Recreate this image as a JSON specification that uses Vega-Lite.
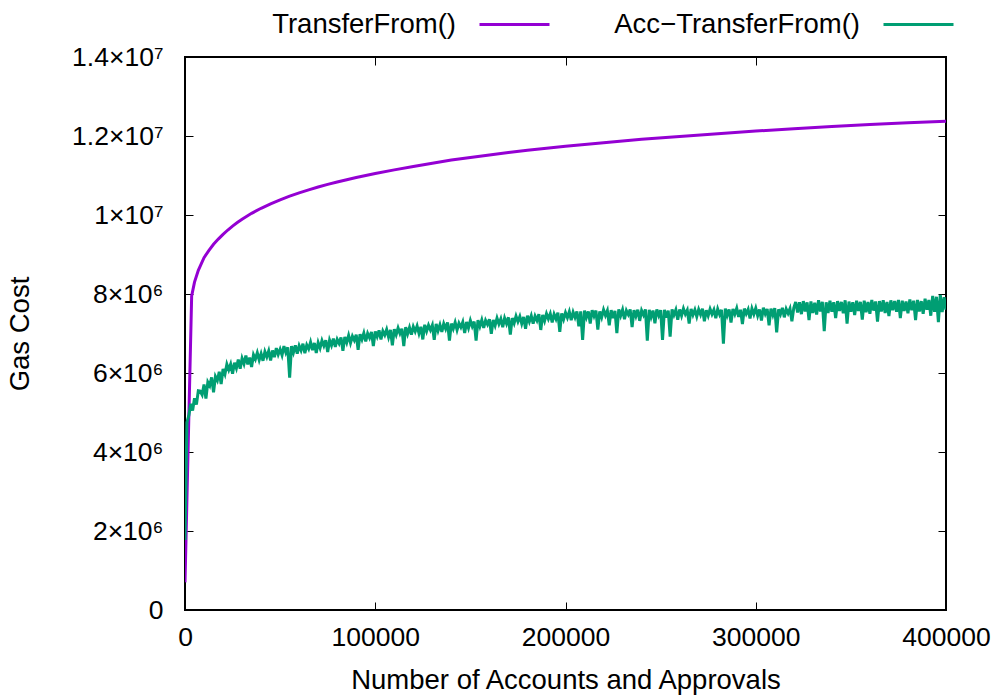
{
  "$schema": "https://vega.github.io/schema/vega-lite/v6.json",
  "width": 761,
  "height": 553,
  "autosize": {"type": "none"},
  "padding": {"left": 185, "top": 57, "right": 53, "bottom": 87},
  "background": "white",
  "config": {
    "font": "Liberation Sans",
    "view": {"stroke": "black", "strokeWidth": 2},
    "axis": {
      "grid": false, "domain": false, "labelFlush": false,
      "labelFont": "Liberation Sans", "labelFontSize": 26.5, "labelColor": "black",
      "titleFont": "Liberation Sans", "titleFontSize": 27.5, "titleFontWeight": "normal", "titleColor": "black",
      "tickColor": "black", "tickWidth": 1, "tickSize": -8
    }
  },
  "datasets": {
    "purple": [
      {"x":0,"y":700000},{"x":3500,"y":7950000},{"x":5000,"y":8300000},{"x":7000,"y":8600000},{"x":10000,"y":8920000},{"x":12500,"y":9100000},{"x":15000,"y":9260000},{"x":17500,"y":9390000},{"x":20000,"y":9510000},{"x":22500,"y":9620000},{"x":25000,"y":9720000},{"x":27500,"y":9810000},{"x":30000,"y":9894000},{"x":35000,"y":10042000},{"x":40000,"y":10170000},{"x":45000,"y":10284000},{"x":50000,"y":10385000},{"x":55000,"y":10476000},{"x":60000,"y":10560000},{"x":65000,"y":10637000},{"x":70000,"y":10708000},{"x":75000,"y":10774000},{"x":80000,"y":10836000},{"x":85000,"y":10894000},{"x":90000,"y":10949000},{"x":95000,"y":11001000},{"x":100000,"y":11050000},{"x":110000,"y":11142000},{"x":120000,"y":11230000},{"x":130000,"y":11312000},{"x":140000,"y":11390000},{"x":150000,"y":11458000},{"x":160000,"y":11520000},{"x":170000,"y":11581000},{"x":180000,"y":11640000},{"x":190000,"y":11692000},{"x":200000,"y":11740000},{"x":220000,"y":11830000},{"x":240000,"y":11915000},{"x":260000,"y":11990000},{"x":280000,"y":12060000},{"x":300000,"y":12125000},{"x":320000,"y":12185000},{"x":340000,"y":12240000},{"x":360000,"y":12290000},{"x":380000,"y":12335000},{"x":400000,"y":12375000}
    ],
    "green": [
      {"x":0,"y":1770000},{"x":1000,"y":4750000},{"x":2000,"y":4920000},{"x":3000,"y":5220000},{"x":4000,"y":5050000},{"x":5000,"y":5360000},{"x":6000,"y":5200000},{"x":7000,"y":5550000},{"x":8000,"y":5540000},{"x":9000,"y":5450000},
      {"x":10000,"y":5710000},{"x":11000,"y":5350000},{"x":12000,"y":5770000},{"x":13000,"y":5680000},{"x":14000,"y":5890000},{"x":15000,"y":5510000},{"x":16000,"y":5910000},{"x":17000,"y":5810000},{"x":18000,"y":6030000},{"x":19000,"y":5720000},
      {"x":20000,"y":6100000},{"x":21000,"y":5970000},{"x":22000,"y":6220000},{"x":23000,"y":6080000},{"x":24000,"y":6220000},{"x":25000,"y":5980000},{"x":26000,"y":6260000},{"x":27000,"y":6120000},{"x":28000,"y":6340000},{"x":29000,"y":6110000},
      {"x":30000,"y":6370000},{"x":31000,"y":6230000},{"x":32000,"y":6440000},{"x":33000,"y":6220000},{"x":34000,"y":6390000},{"x":35000,"y":6150000},{"x":36000,"y":6460000},{"x":37000,"y":6350000},{"x":38000,"y":6510000},{"x":39000,"y":6330000},
      {"x":40000,"y":6490000},{"x":41000,"y":6310000},{"x":42000,"y":6540000},{"x":43000,"y":6410000},{"x":44000,"y":6560000},{"x":45000,"y":6320000},{"x":46000,"y":6570000},{"x":47000,"y":6400000},{"x":48000,"y":6630000},{"x":49000,"y":6470000},
      {"x":50000,"y":6600000},{"x":51000,"y":6450000},{"x":52000,"y":6680000},{"x":53000,"y":6520000},{"x":54000,"y":6650000},{"x":55000,"y":5880000},{"x":56000,"y":6680000},{"x":57000,"y":6520000},{"x":58000,"y":6700000},{"x":59000,"y":6490000},
      {"x":60000,"y":6690000},{"x":61000,"y":6570000},{"x":62000,"y":6740000},{"x":63000,"y":6500000},{"x":64000,"y":6710000},{"x":65000,"y":6610000},{"x":66000,"y":6780000},{"x":67000,"y":6580000},{"x":68000,"y":6760000},{"x":69000,"y":6510000},
      {"x":70000,"y":6770000},{"x":71000,"y":6630000},{"x":72000,"y":6820000},{"x":73000,"y":6690000},{"x":74000,"y":6830000},{"x":75000,"y":6530000},{"x":76000,"y":6830000},{"x":77000,"y":6700000},{"x":78000,"y":6870000},{"x":79000,"y":6660000},
      {"x":80000,"y":6850000},{"x":81000,"y":6750000},{"x":82000,"y":6900000},{"x":83000,"y":6560000},{"x":84000,"y":6910000},{"x":85000,"y":6770000},{"x":86000,"y":6950000},{"x":87000,"y":6760000},{"x":88000,"y":6930000},{"x":89000,"y":6830000},
      {"x":90000,"y":6970000},{"x":91000,"y":6590000},{"x":92000,"y":6980000},{"x":93000,"y":6850000},{"x":94000,"y":7010000},{"x":95000,"y":6800000},{"x":96000,"y":7000000},{"x":97000,"y":6890000},{"x":98000,"y":7040000},{"x":99000,"y":6680000},
      {"x":100000,"y":7050000},{"x":101000,"y":6920000},{"x":102000,"y":7080000},{"x":103000,"y":6850000},{"x":104000,"y":7060000},{"x":105000,"y":6960000},{"x":106000,"y":7100000},{"x":107000,"y":6910000},{"x":108000,"y":7090000},{"x":109000,"y":6700000},
      {"x":110000,"y":7110000},{"x":111000,"y":6970000},{"x":112000,"y":7140000},{"x":113000,"y":7000000},{"x":114000,"y":7120000},{"x":115000,"y":6680000},{"x":116000,"y":7160000},{"x":117000,"y":6990000},{"x":118000,"y":7150000},{"x":119000,"y":6970000},
      {"x":120000,"y":7170000},{"x":121000,"y":7050000},{"x":122000,"y":7190000},{"x":123000,"y":7000000},{"x":124000,"y":7170000},{"x":125000,"y":6850000},{"x":126000,"y":7220000},{"x":127000,"y":7060000},{"x":128000,"y":7210000},{"x":129000,"y":7090000},
      {"x":130000,"y":7210000},{"x":131000,"y":6840000},{"x":132000,"y":7240000},{"x":133000,"y":7070000},{"x":134000,"y":7220000},{"x":135000,"y":7040000},{"x":136000,"y":7250000},{"x":137000,"y":7120000},{"x":138000,"y":7280000},{"x":139000,"y":6820000},
      {"x":140000,"y":7250000},{"x":141000,"y":7120000},{"x":142000,"y":7280000},{"x":143000,"y":7090000},{"x":144000,"y":7260000},{"x":145000,"y":7160000},{"x":146000,"y":7290000},{"x":147000,"y":7010000},{"x":148000,"y":7290000},{"x":149000,"y":7140000},
      {"x":150000,"y":7330000},{"x":151000,"y":7180000},{"x":152000,"y":7300000},{"x":153000,"y":6820000},{"x":154000,"y":7340000},{"x":155000,"y":7180000},{"x":156000,"y":7340000},{"x":157000,"y":7140000},{"x":158000,"y":7330000},{"x":159000,"y":7230000},
      {"x":160000,"y":7360000},{"x":161000,"y":6990000},{"x":162000,"y":7340000},{"x":163000,"y":7200000},{"x":164000,"y":7390000},{"x":165000,"y":7240000},{"x":166000,"y":7370000},{"x":167000,"y":7160000},{"x":168000,"y":7390000},{"x":169000,"y":7250000},
      {"x":170000,"y":7410000},{"x":171000,"y":6970000},{"x":172000,"y":7390000},{"x":173000,"y":7260000},{"x":174000,"y":7440000},{"x":175000,"y":7300000},{"x":176000,"y":7430000},{"x":177000,"y":7250000},{"x":178000,"y":7420000},{"x":179000,"y":7120000},
      {"x":180000,"y":7450000},{"x":181000,"y":7300000},{"x":182000,"y":7450000},{"x":183000,"y":7250000},{"x":184000,"y":7440000},{"x":185000,"y":7330000},{"x":186000,"y":7490000},{"x":187000,"y":7090000},{"x":188000,"y":7470000},{"x":189000,"y":7320000},
      {"x":190000,"y":7500000},{"x":191000,"y":7370000},{"x":192000,"y":7500000},{"x":193000,"y":7280000},{"x":194000,"y":7490000},{"x":195000,"y":7370000},{"x":196000,"y":7530000},{"x":197000,"y":7040000},{"x":198000,"y":7510000},{"x":199000,"y":7360000},
      {"x":200000,"y":7530000},{"x":201000,"y":7400000},{"x":202000,"y":7550000},{"x":203000,"y":7340000},{"x":204000,"y":7540000},{"x":205000,"y":7410000},{"x":206000,"y":7560000},{"x":207000,"y":7180000},{"x":208000,"y":7560000},{"x":209000,"y":6840000},
      {"x":210000,"y":7580000},{"x":211000,"y":7410000},{"x":212000,"y":7560000},{"x":213000,"y":7250000},{"x":214000,"y":7590000},{"x":215000,"y":7440000},{"x":216000,"y":7580000},{"x":217000,"y":7100000},{"x":218000,"y":7560000},{"x":219000,"y":7410000},
      {"x":220000,"y":7600000},{"x":221000,"y":7460000},{"x":222000,"y":7580000},{"x":223000,"y":7210000},{"x":224000,"y":7590000},{"x":225000,"y":7390000},{"x":226000,"y":7570000},{"x":227000,"y":7010000},{"x":228000,"y":7610000},{"x":229000,"y":7450000},
      {"x":230000,"y":7600000},{"x":231000,"y":7360000},{"x":232000,"y":7580000},{"x":233000,"y":7480000},{"x":234000,"y":7610000},{"x":235000,"y":7160000},{"x":236000,"y":7590000},{"x":237000,"y":7440000},{"x":238000,"y":7600000},{"x":239000,"y":7320000},
      {"x":240000,"y":7580000},{"x":241000,"y":7470000},{"x":242000,"y":7610000},{"x":243000,"y":6820000},{"x":244000,"y":7600000},{"x":245000,"y":7420000},{"x":246000,"y":7580000},{"x":247000,"y":7260000},{"x":248000,"y":7610000},{"x":249000,"y":7460000},
      {"x":250000,"y":7590000},{"x":251000,"y":6840000},{"x":252000,"y":7600000},{"x":253000,"y":7400000},{"x":254000,"y":7580000},{"x":255000,"y":6920000},{"x":256000,"y":7610000},{"x":257000,"y":7470000},{"x":258000,"y":7600000},{"x":259000,"y":7350000},
      {"x":260000,"y":7610000},{"x":261000,"y":7450000},{"x":262000,"y":7630000},{"x":263000,"y":7490000},{"x":264000,"y":7590000},{"x":265000,"y":7250000},{"x":266000,"y":7620000},{"x":267000,"y":7470000},{"x":268000,"y":7600000},{"x":269000,"y":7430000},
      {"x":270000,"y":7610000},{"x":271000,"y":7480000},{"x":272000,"y":7630000},{"x":273000,"y":7310000},{"x":274000,"y":7590000},{"x":275000,"y":7450000},{"x":276000,"y":7620000},{"x":277000,"y":7490000},{"x":278000,"y":7600000},{"x":279000,"y":7390000},
      {"x":280000,"y":7620000},{"x":281000,"y":7480000},{"x":282000,"y":7600000},{"x":283000,"y":6740000},{"x":284000,"y":7630000},{"x":285000,"y":7460000},{"x":286000,"y":7610000},{"x":287000,"y":7280000},{"x":288000,"y":7620000},{"x":289000,"y":7490000},
      {"x":290000,"y":7640000},{"x":291000,"y":7420000},{"x":292000,"y":7600000},{"x":293000,"y":7240000},{"x":294000,"y":7630000},{"x":295000,"y":7500000},{"x":296000,"y":7610000},{"x":297000,"y":7380000},{"x":298000,"y":7630000},{"x":299000,"y":7490000},
      {"x":300000,"y":7640000},{"x":301000,"y":7450000},{"x":302000,"y":7610000},{"x":303000,"y":7330000},{"x":304000,"y":7650000},{"x":305000,"y":7500000},{"x":306000,"y":7620000},{"x":307000,"y":7210000},{"x":308000,"y":7630000},{"x":309000,"y":7470000},
      {"x":310000,"y":7640000},{"x":311000,"y":7030000},{"x":312000,"y":7610000},{"x":313000,"y":7490000},{"x":314000,"y":7650000},{"x":315000,"y":7410000},{"x":316000,"y":7620000},{"x":317000,"y":7510000},{"x":318000,"y":7630000},{"x":319000,"y":7310000},
      {"x":320000,"y":7650000},{"x":321000,"y":7800000},{"x":322000,"y":7530000},{"x":323000,"y":7790000},{"x":324000,"y":7490000},{"x":325000,"y":7820000},{"x":326000,"y":7560000},{"x":327000,"y":7790000},{"x":328000,"y":7340000},{"x":329000,"y":7810000},
      {"x":330000,"y":7520000},{"x":331000,"y":7780000},{"x":332000,"y":7480000},{"x":333000,"y":7840000},{"x":334000,"y":7560000},{"x":335000,"y":7800000},{"x":336000,"y":7060000},{"x":337000,"y":7790000},{"x":338000,"y":7520000},{"x":339000,"y":7830000},
      {"x":340000,"y":7550000},{"x":341000,"y":7790000},{"x":342000,"y":7390000},{"x":343000,"y":7820000},{"x":344000,"y":7570000},{"x":345000,"y":7800000},{"x":346000,"y":7510000},{"x":347000,"y":7840000},{"x":348000,"y":7250000},{"x":349000,"y":7810000},
      {"x":350000,"y":7550000},{"x":351000,"y":7790000},{"x":352000,"y":7470000},{"x":353000,"y":7830000},{"x":354000,"y":7570000},{"x":355000,"y":7800000},{"x":356000,"y":7350000},{"x":357000,"y":7830000},{"x":358000,"y":7540000},{"x":359000,"y":7800000},
      {"x":360000,"y":7500000},{"x":361000,"y":7850000},{"x":362000,"y":7580000},{"x":363000,"y":7810000},{"x":364000,"y":7300000},{"x":365000,"y":7820000},{"x":366000,"y":7560000},{"x":367000,"y":7840000},{"x":368000,"y":7520000},{"x":369000,"y":7800000},
      {"x":370000,"y":7440000},{"x":371000,"y":7840000},{"x":372000,"y":7590000},{"x":373000,"y":7820000},{"x":374000,"y":7550000},{"x":375000,"y":7850000},{"x":376000,"y":7390000},{"x":377000,"y":7830000},{"x":378000,"y":7570000},{"x":379000,"y":7810000},
      {"x":380000,"y":7510000},{"x":381000,"y":7860000},{"x":382000,"y":7590000},{"x":383000,"y":7830000},{"x":384000,"y":7340000},{"x":385000,"y":7850000},{"x":386000,"y":7560000},{"x":387000,"y":7820000},{"x":388000,"y":7500000},{"x":389000,"y":7880000},
      {"x":390000,"y":7600000},{"x":391000,"y":7850000},{"x":392000,"y":7450000},{"x":393000,"y":7950000},{"x":394000,"y":7550000},{"x":395000,"y":7930000},{"x":396000,"y":7290000},{"x":397000,"y":7980000},{"x":398000,"y":7540000},{"x":399000,"y":7920000},
      {"x":400000,"y":7600000}
    ]
  },
  "layer": [
    {
      "data": {"name": "purple"},
      "mark": {"type": "line", "strokeWidth": 3, "clip": true},
      "encoding": {
        "x": {"field": "x", "type": "quantitative",
              "scale": {"domain": [0, 400000], "nice": false, "zero": false},
              "axis": {"orient": "bottom", "values": [0, 100000, 200000, 300000, 400000], "format": "d",
                       "labelPadding": 22, "title": "Number of Accounts and Approvals", "titlePadding": 16}},
        "y": {"field": "y", "type": "quantitative",
              "scale": {"domain": [0, 14000000], "nice": false},
              "axis": {"orient": "left", "values": [0, 2000000, 4000000, 6000000, 8000000, 10000000, 12000000, 14000000],
                       "labelExpr": "datum.value == 0 ? '0' : (datum.value < 10000000 ? format(datum.value / 1000000, 'd') + '×10⁶' : format(datum.value / 10000000, '.2~f') + '×10⁷')",
                       "labelPadding": 30, "title": "Gas Cost", "titlePadding": 37}},
        "color": {"datum": "TransferFrom()", "type": "nominal",
                  "scale": {"domain": ["TransferFrom()", "Acc−TransferFrom()"], "range": ["#9400d3", "#009e73"]},
                  "legend": {"orient": "none", "legendX": 293, "legendY": -69, "direction": "horizontal", "title": null,
                             "symbolType": "stroke", "symbolSize": 4900, "symbolStrokeWidth": 3,
                             "labelFont": "Liberation Sans", "labelFontSize": 27.5, "labelColor": "black", "labelLimit": 500,
                             "labelOffset": 0, "padding": 0, "columnPadding": 58,
                             "encode": {"labels": {"update": {"align": {"value": "right"}, "dx": {"value": -95}}}}}}
      }
    },
    {
      "data": {"name": "green"},
      "mark": {"type": "line", "strokeWidth": 3, "clip": true},
      "encoding": {
        "x": {"field": "x", "type": "quantitative",
              "axis": {"orient": "top", "values": [0, 100000, 200000, 300000, 400000], "labels": false, "title": null}},
        "y": {"field": "y", "type": "quantitative",
              "axis": {"orient": "right", "values": [0, 2000000, 4000000, 6000000, 8000000, 10000000, 12000000, 14000000], "labels": false, "title": null}},
        "color": {"datum": "Acc−TransferFrom()", "type": "nominal"}
      }
    }
  ],
  "resolve": {"axis": {"x": "independent", "y": "independent"}}
}
